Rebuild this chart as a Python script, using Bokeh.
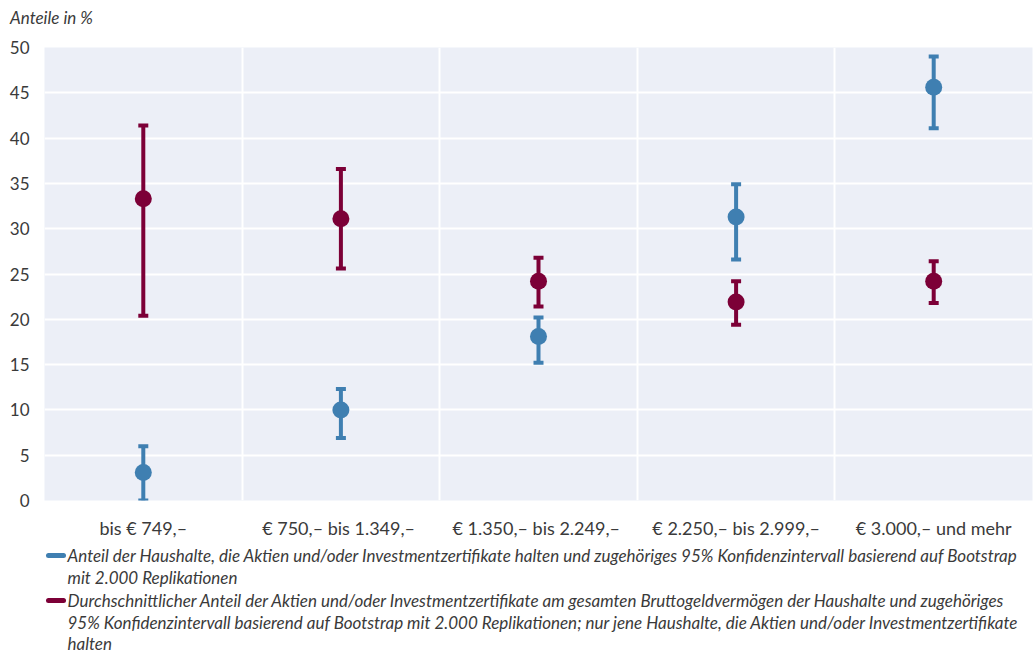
from bokeh.plotting import figure
from bokeh.layouts import column
from bokeh.models import ColumnDataSource, FixedTicker, Range1d, Div
from bokeh.core.properties import value
from bokeh.embed import file_html
from bokeh.resources import INLINE

# Income classes (monthly net household income)
categories = ["bis € 749,–", "€ 750,– bis  1.349,–", "€ 1.350,– bis  2.249,–",
              "€ 2.250,– bis 2.999,–", "€ 3.000,– und mehr"]

# Share of households holding shares and/or investment certificates (%)
holders_share = [3.1, 10.0, 18.1, 31.3, 45.6]
holders_low = [0.0, 6.9, 15.2, 26.6, 41.1]
holders_high = [6.0, 12.3, 20.2, 34.9, 49.0]

# Average share of these assets in gross financial wealth (%)
portfolio_share = [33.3, 31.1, 24.2, 21.9, 24.2]
portfolio_low = [20.4, 25.6, 21.4, 19.4, 21.8]
portfolio_high = [41.4, 36.6, 26.8, 24.2, 26.4]

y_ticks = [0, 5, 10, 15, 20, 25, 30, 35, 40, 45, 50]

legend_texts = [
    ["Anteil der Haushalte, die Aktien und/oder Investmentzertifikate halten und zugehöriges 95% Konfidenzintervall basierend auf Bootstrap",
     "mit 2.000 Replikationen"],
    ["Durchschnittlicher Anteil der Aktien und/oder Investmentzertifikate am gesamten Bruttogeldvermögen der Haushalte und zugehöriges",
     "95% Konfidenzintervall basierend auf Bootstrap mit 2.000 Replikationen; nur jene Haushalte, die Aktien und/oder Investmentzertifikate",
     "halten"],
]

BLUE = "#3f7fb1"
RED = "#7c0037"
BG = "#eceff7"
TEXT = "#3a3a3a"
FONT = "Lato"

xpos = [i + 0.5 for i in range(len(categories))]

# ---- unit caption above the chart ---------------------------------------
HEAD_H = 36
head = Div(text="Anteile in %", width=1034, height=HEAD_H, margin=0,
           styles={"font-family": FONT, "font-style": "italic",
                   "font-size": "17px", "color": TEXT, "line-height": "20px",
                   "padding-left": "10px", "padding-top": "8px",
                   "box-sizing": "border-box"})

# ---- main chart -------------------------------------------------------
MAIN_H = 546 - HEAD_H
p = figure(width=1034, height=MAIN_H, output_backend="svg", toolbar_location=None,
           x_range=Range1d(0, len(categories)), y_range=Range1d(0, 50))
p.min_border_left = 44
p.min_border_right = 2
p.min_border_top = 47 - HEAD_H
p.min_border_bottom = 46
p.outline_line_color = None
p.background_fill_color = BG
p.border_fill_color = "white"

p.xaxis.ticker = FixedTicker(ticks=xpos)
p.xaxis.major_label_overrides = {x: c for x, c in zip(xpos, categories)}
p.yaxis.ticker = FixedTicker(ticks=y_ticks)
for ax in (p.xaxis[0], p.yaxis[0]):
    ax.axis_line_color = None
    ax.major_tick_line_color = None
    ax.minor_tick_line_color = None
    ax.major_label_text_font = FONT
    ax.major_label_text_color = TEXT
p.yaxis.major_label_text_font_size = "17px"
p.yaxis.major_label_standoff = 9
p.xaxis.major_label_text_font_size = "18px"
p.xaxis.major_label_standoff = 10

# horizontal grid at the ticks, vertical separators between income classes
p.ygrid.ticker = FixedTicker(ticks=y_ticks)
p.xgrid.ticker = FixedTicker(ticks=list(range(1, len(categories))))
for g in (p.xgrid[0], p.ygrid[0]):
    g.grid_line_color = "white"
    g.grid_line_width = 2


def draw_series(vals, lows, highs, color):
    src = ColumnDataSource(dict(x=xpos, y=vals, lo=lows, hi=highs))
    p.segment(x0="x", y0="lo", x1="x", y1="hi", source=src,
              line_color=color, line_width=4)
    for key in ("lo", "hi"):
        p.rect(x="x", y=key, width=10, height=4, width_units="screen",
               height_units="screen", source=src, fill_color=color,
               line_color=None)
    p.scatter(x="x", y="y", size=17, source=src, fill_color=color,
              line_color=None)


draw_series(portfolio_share, portfolio_low, portfolio_high, RED)
draw_series(holders_share, holders_low, holders_high, BLUE)

# ---- legend strip below the chart (page pixel coordinates) -------------
TOP = HEAD_H + MAIN_H
LH = 654 - TOP
leg = figure(width=1034, height=LH, output_backend="svg", toolbar_location=None,
             x_range=Range1d(44, 1032), y_range=Range1d(LH, 0),
             x_axis_location=None, y_axis_location=None, title=None,
             outline_line_color=None)
leg.min_border_left = 44
leg.min_border_right = 2
leg.min_border_top = 0
leg.min_border_bottom = 0
leg.grid.visible = False

rows_y = [[555, 577], [600, 622, 643]]
for texts, ys, color in zip(legend_texts, rows_y, [BLUE, RED]):
    ys = [y - TOP for y in ys]
    leg.segment(x0=[48], y0=[ys[0]], x1=[63], y1=[ys[0]], line_color=color,
                line_width=5, line_cap="round")
    leg.text(x=[67] * len(texts), y=ys, text=texts, text_font=value(FONT),
             text_font_size="17px", text_font_style="italic",
             text_color=TEXT, text_baseline="middle")

layout = column(head, p, leg, spacing=0)
open("out.html", "w").write(file_html(layout, INLINE))
